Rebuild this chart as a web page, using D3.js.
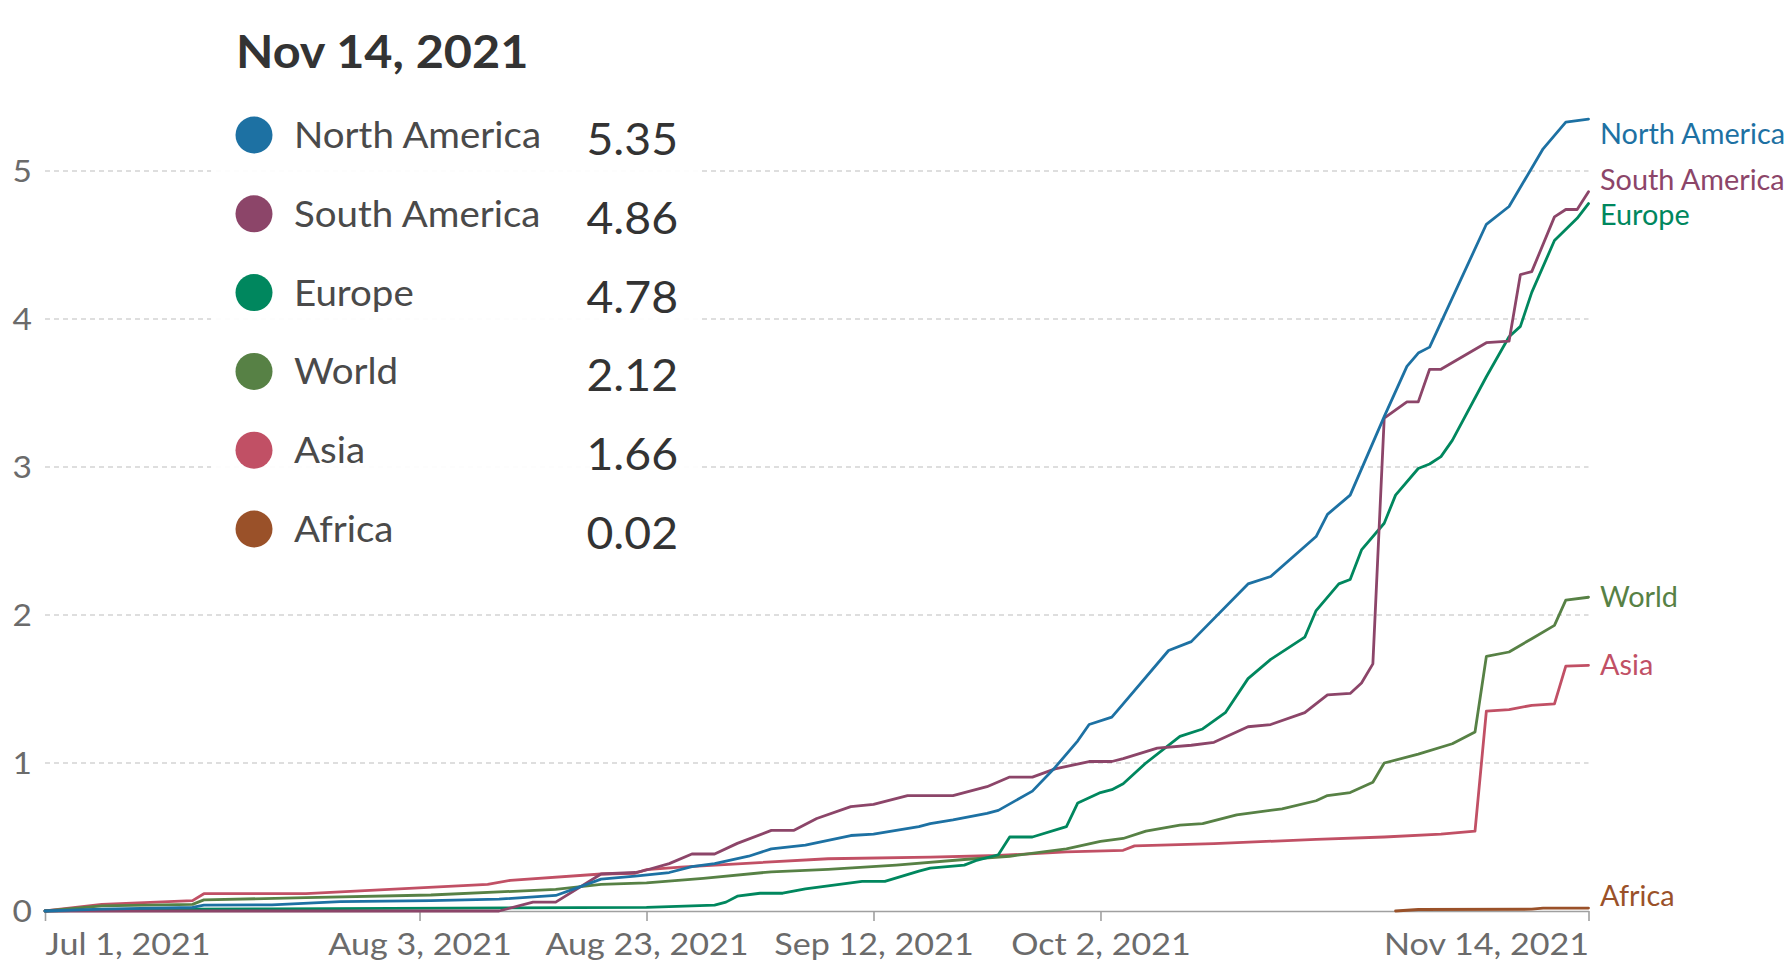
<!DOCTYPE html>
<html>
<head>
<meta charset="utf-8">
<script src="https://cdn.jsdelivr.net/npm/d3@7"></script>
<style>
html, body { margin: 0; padding: 0; background: #fff; }
svg { display: block; font-family: Lato, "Noto Sans", sans-serif; }
</style>
</head>
<body>
<svg id="chart" width="1792" height="963"></svg>
<script>
// ---------------- DATA ----------------
const seriesNames  = ["North America", "South America", "Europe", "World", "Asia", "Africa"];
const seriesColors = ["#1d71a3", "#8c4569", "#00875e", "#578145", "#c15065", "#9a5129"];
const legendDate   = "Nov 14, 2021";
const legendValues = ["5.35", "4.86", "4.78", "2.12", "1.66", "0.02"];
const xTickDates   = ["2021-07-01", "2021-08-03", "2021-08-23", "2021-09-12", "2021-10-02", "2021-11-14"];
const xTickLabels  = ["Jul 1, 2021", "Aug 3, 2021", "Aug 23, 2021", "Sep 12, 2021", "Oct 2, 2021", "Nov 14, 2021"];
const yTickValues  = [0, 1, 2, 3, 4, 5];

const northAmerica = [
  ["2021-07-01",0],["2021-07-06",0.012],["2021-07-14",0.025],["2021-07-15",0.04],["2021-07-21",0.042],
  ["2021-07-27",0.063],["2021-08-04",0.07],["2021-08-10",0.08],["2021-08-15",0.105],["2021-08-17",0.16],
  ["2021-08-19",0.215],["2021-08-22",0.235],["2021-08-25",0.26],["2021-08-27",0.30],["2021-08-29",0.32],
  ["2021-09-01",0.37],["2021-09-03",0.42],["2021-09-06",0.445],["2021-09-10",0.51],["2021-09-12",0.52],
  ["2021-09-16",0.57],["2021-09-17",0.59],["2021-09-19",0.615],["2021-09-22",0.66],["2021-09-23",0.68],
  ["2021-09-26",0.81],["2021-09-28",0.97],["2021-09-30",1.15],["2021-10-01",1.26],["2021-10-03",1.31],
  ["2021-10-04",1.40],["2021-10-08",1.76],["2021-10-10",1.82],["2021-10-15",2.21],["2021-10-17",2.26],
  ["2021-10-21",2.53],["2021-10-22",2.68],["2021-10-24",2.81],["2021-10-27",3.34],["2021-10-29",3.68],
  ["2021-10-30",3.77],["2021-10-31",3.81],["2021-11-05",4.64],["2021-11-07",4.76],["2021-11-10",5.15],
  ["2021-11-12",5.33],["2021-11-14",5.35]
];
const southAmerica = [
  ["2021-07-01",0],["2021-08-10",0],["2021-08-13",0.06],["2021-08-15",0.06],["2021-08-19",0.25],
  ["2021-08-22",0.26],["2021-08-23",0.277],["2021-08-25",0.32],["2021-08-27",0.385],["2021-08-29",0.385],
  ["2021-08-31",0.457],["2021-09-03",0.545],["2021-09-05",0.545],["2021-09-07",0.625],["2021-09-10",0.705],
  ["2021-09-12",0.72],["2021-09-15",0.78],["2021-09-19",0.78],["2021-09-22",0.84],["2021-09-24",0.905],
  ["2021-09-26",0.905],["2021-09-28",0.96],["2021-10-01",1.01],["2021-10-03",1.01],["2021-10-04",1.03],
  ["2021-10-07",1.10],["2021-10-10",1.12],["2021-10-12",1.14],["2021-10-15",1.245],["2021-10-17",1.26],
  ["2021-10-20",1.34],["2021-10-22",1.46],["2021-10-24",1.47],["2021-10-25",1.54],["2021-10-26",1.67],
  ["2021-10-27",3.33],["2021-10-29",3.44],["2021-10-30",3.44],["2021-10-31",3.66],["2021-11-01",3.66],
  ["2021-11-05",3.84],["2021-11-07",3.85],["2021-11-08",4.30],["2021-11-09",4.32],["2021-11-11",4.69],
  ["2021-11-12",4.74],["2021-11-13",4.74],["2021-11-14",4.86]
];
const europe = [
  ["2021-07-01",0],["2021-07-08",0.01],["2021-07-21",0.015],["2021-08-23",0.025],["2021-08-29",0.04],
  ["2021-08-30",0.06],["2021-08-31",0.10],["2021-09-02",0.12],["2021-09-04",0.12],["2021-09-06",0.15],
  ["2021-09-11",0.20],["2021-09-13",0.20],["2021-09-16",0.27],["2021-09-17",0.29],["2021-09-20",0.31],
  ["2021-09-21",0.34],["2021-09-23",0.38],["2021-09-24",0.50],["2021-09-26",0.50],["2021-09-29",0.57],
  ["2021-09-30",0.73],["2021-10-02",0.80],["2021-10-03",0.82],["2021-10-04",0.86],["2021-10-06",1.00],
  ["2021-10-09",1.18],["2021-10-11",1.23],["2021-10-13",1.34],["2021-10-15",1.57],["2021-10-17",1.70],
  ["2021-10-20",1.85],["2021-10-21",2.03],["2021-10-23",2.21],["2021-10-24",2.24],["2021-10-25",2.44],
  ["2021-10-27",2.62],["2021-10-28",2.81],["2021-10-30",2.99],["2021-10-31",3.02],["2021-11-01",3.07],
  ["2021-11-02",3.18],["2021-11-05",3.61],["2021-11-07",3.88],["2021-11-08",3.95],["2021-11-09",4.18],
  ["2021-11-11",4.53],["2021-11-13",4.68],["2021-11-14",4.78]
];
const world = [
  ["2021-07-01",0],["2021-07-06",0.034],["2021-07-14",0.045],["2021-07-15",0.075],["2021-07-24",0.09],
  ["2021-08-04",0.108],["2021-08-15",0.146],["2021-08-19",0.18],["2021-08-23",0.19],["2021-08-28",0.22],
  ["2021-09-03",0.265],["2021-09-08",0.281],["2021-09-14",0.31],["2021-09-20",0.348],["2021-09-24",0.37],
  ["2021-09-29",0.42],["2021-10-02",0.47],["2021-10-04",0.49],["2021-10-06",0.54],["2021-10-09",0.58],
  ["2021-10-11",0.59],["2021-10-14",0.65],["2021-10-18",0.69],["2021-10-21",0.745],["2021-10-22",0.78],
  ["2021-10-24",0.80],["2021-10-26",0.87],["2021-10-27",1.00],["2021-10-30",1.06],["2021-11-02",1.13],
  ["2021-11-04",1.21],["2021-11-05",1.72],["2021-11-07",1.75],["2021-11-09",1.84],["2021-11-11",1.93],
  ["2021-11-12",2.10],["2021-11-14",2.12]
];
const asia = [
  ["2021-07-01",0],["2021-07-06",0.045],["2021-07-14",0.07],["2021-07-15",0.117],["2021-07-24",0.117],
  ["2021-08-09",0.18],["2021-08-11",0.207],["2021-08-19",0.25],["2021-08-22",0.255],["2021-08-23",0.28],
  ["2021-08-26",0.297],["2021-09-08",0.353],["2021-09-17",0.364],["2021-09-23",0.375],["2021-09-29",0.40],
  ["2021-10-04",0.41],["2021-10-05",0.44],["2021-10-12",0.455],["2021-10-21",0.484],["2021-10-27",0.50],
  ["2021-11-01",0.52],["2021-11-04",0.54],["2021-11-05",1.35],["2021-11-07",1.36],["2021-11-09",1.39],
  ["2021-11-11",1.40],["2021-11-12",1.655],["2021-11-14",1.66]
];
const africa = [
  ["2021-10-28",0],["2021-10-30",0.01],["2021-11-09",0.012],["2021-11-10",0.02],["2021-11-14",0.02]
];
const seriesData = [northAmerica, southAmerica, europe, world, asia, africa];

// ---------------- CHART ----------------
const parse = d3.timeParse("%Y-%m-%d");
const svg = d3.select("#chart");
const plotLeft = 45, plotRight = 1588.5, plotBottom = 911, plotTop5 = 171;

const x = d3.scaleTime()
  .domain([parse(xTickDates[0]), parse(xTickDates[xTickDates.length - 1])])
  .range([plotLeft, plotRight]);
const y = d3.scaleLinear().domain([0, 5]).range([plotBottom, plotTop5]);

// grid lines
svg.append("g").selectAll("line")
  .data(yTickValues.filter(v => v > 0))
  .join("line")
  .attr("x1", plotLeft).attr("x2", plotRight)
  .attr("y1", d => y(d)).attr("y2", d => y(d))
  .attr("stroke", "#d3d3d3").attr("stroke-width", 1.3)
  .attr("stroke-dasharray", "5,4");

// y labels
svg.append("g").selectAll("text")
  .data(yTickValues)
  .join("text")
  .attr("transform", d => `translate(32,${y(d) + 11}) scale(1.08,1)`)
  .attr("text-anchor", "end")
  .attr("font-size", 31)
  .attr("fill", "#6b6b6b")
  .text(d => d);

// x axis
const xAxis = d3.axisBottom(x)
  .tickValues(xTickDates.map(parse))
  .tickSizeInner(10).tickSizeOuter(0)
  .tickFormat((d, i) => xTickLabels[i]);
const gx = svg.append("g").attr("transform", `translate(0,${plotBottom})`).call(xAxis);
gx.select(".domain").attr("stroke", "#a0a0a0").attr("stroke-width", 1.6);
gx.selectAll(".tick line").attr("stroke", "#a0a0a0").attr("stroke-width", 1.6);
const nT = xTickLabels.length;
gx.selectAll(".tick text")
  .attr("font-family", "Lato, 'Noto Sans', sans-serif")
  .attr("font-size", 31)
  .attr("fill", "#6b6b6b")
  .attr("y", 0).attr("dy", 0)
  .attr("text-anchor", (d, i) => i === 0 ? "start" : (i === nT - 1 ? "end" : "middle"))
  .attr("transform", "translate(0,44) scale(1.1,1)");

// legend background box
svg.append("rect")
  .attr("x", 211).attr("y", 11).attr("width", 488).attr("height", 567)
  .attr("fill", "#fff").attr("opacity", 0.93);

// lines
const line = d3.line()
  .x(d => x(parse(d[0])))
  .y(d => y(d[1]));
const order = [5, 4, 3, 2, 1, 0];
svg.append("g").selectAll("path")
  .data(order)
  .join("path")
  .attr("d", i => line(seriesData[i]))
  .attr("fill", "none")
  .attr("stroke", i => seriesColors[i])
  .attr("stroke-width", 2.8)
  .attr("stroke-linejoin", "round")
  .attr("stroke-linecap", "round");

// end labels: clamp into the value range, then resolve overlaps
const gap = 35, half = 15;
const lastVals = seriesData.map(s => s[s.length - 1][1]);
const topBound = y(d3.max(lastVals)) + half, bottomBound = plotBottom - half;
let items = seriesNames.map((n, i) => ({
  i, target: Math.max(topBound, Math.min(bottomBound, y(lastVals[i])))
})).sort((a, b) => a.target - b.target);
let clusters = items.map(it => ({ items: [it] }));
function place(c) {
  const m = d3.mean(c.items, d => d.target);
  c.top = m - (c.items.length - 1) * gap / 2;
}
clusters.forEach(place);
let merged = true;
while (merged) {
  merged = false;
  for (let k = 0; k < clusters.length - 1; k++) {
    const a = clusters[k], b = clusters[k + 1];
    if (a.top + a.items.length * gap > b.top) {
      const c = { items: a.items.concat(b.items) };
      place(c);
      clusters.splice(k, 2, c);
      merged = true;
      break;
    }
  }
}
clusters.forEach(c => c.items.forEach((it, j) => { it.y = c.top + j * gap; }));

svg.append("g").selectAll("text")
  .data(items)
  .join("text")
  .attr("transform", d => `translate(1600,${d.y + 10}) scale(1.03,1)`)
  .attr("font-size", 28)
  .attr("fill", d => seriesColors[d.i])
  .text(d => seriesNames[d.i]);

// legend
const legend = svg.append("g");
legend.append("text")
  .attr("transform", "translate(236,68) scale(1.08,1)")
  .attr("font-size", 45)
  .attr("font-weight", 700)
  .attr("fill", "#333")
  .text(legendDate);

const rowY = d3.scalePoint().domain(d3.range(seriesNames.length)).range([135, 529]);
const rows = legend.selectAll("g.row")
  .data(d3.range(seriesNames.length))
  .join("g").attr("class", "row");
rows.append("circle")
  .attr("cx", 254).attr("cy", i => rowY(i)).attr("r", 18.5)
  .attr("fill", i => seriesColors[i]);
rows.append("text")
  .attr("transform", i => `translate(294,${rowY(i) + 13}) scale(1.04,1)`)
  .attr("font-size", 37)
  .attr("fill", "#4a4a4a")
  .text(i => seriesNames[i]);
rows.append("text")
  .attr("transform", i => `translate(678,${rowY(i) + 20}) scale(1.03,1)`)
  .attr("text-anchor", "end")
  .attr("font-size", 45)
  .attr("fill", "#333")
  .text(i => legendValues[i]);
</script>
</body>
</html>
